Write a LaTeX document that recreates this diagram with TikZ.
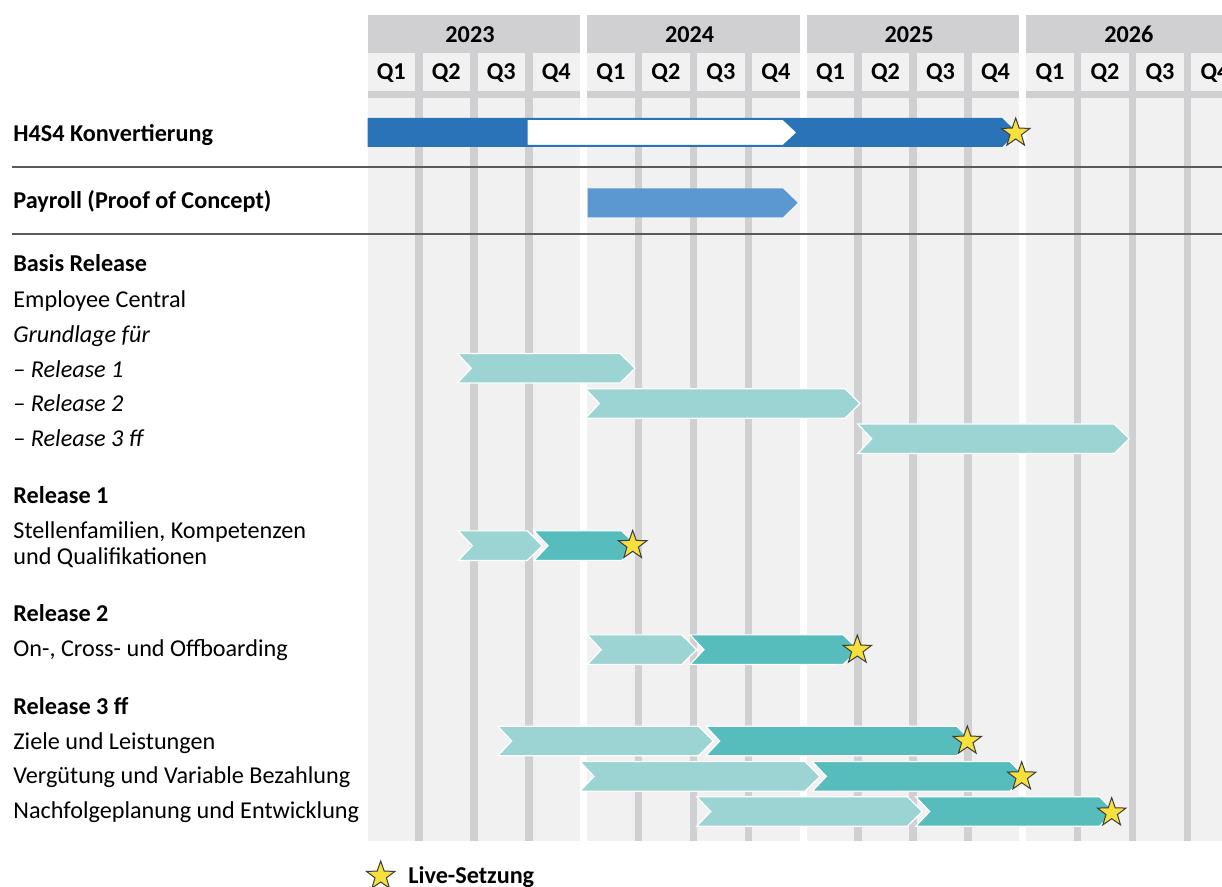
\documentclass[tikz,border=0pt]{standalone}
\usepackage{fontspec}
\setmainfont{Carlito}
\usetikzlibrary{shapes.geometric}

\definecolor{headgray}{HTML}{D0D0D2}
\definecolor{cellgray}{HTML}{F1F1F1}
\definecolor{hblue}{HTML}{2A73B8}
\definecolor{pblue}{HTML}{5B97D1}
\definecolor{lteal}{HTML}{9CD4D4}
\definecolor{dteal}{HTML}{56BDBC}
\definecolor{staryellow}{HTML}{F7E03C}
\definecolor{stargray}{HTML}{3C3C3C}
\definecolor{rulegray}{HTML}{5A5A5A}

\newcommand{\chartfont}{\fontsize{12.1}{13.8}\selectfont}

% bar with flat start: [style]{from}{to}{mid}
\newcommand{\flatbar}[4][]{%
  \path[#1] (#2,#4-14.5) -- (#3-15,#4-14.5) -- (#3,#4) -- (#3-15,#4+14.5) -- (#2,#4+14.5) -- cycle;}
% chevron: [style]{from}{to}{mid}
\newcommand{\chev}[4][]{%
  \path[#1] (#2,#4-14.8) -- (#3-15,#4-14.8) -- (#3,#4) -- (#3-15,#4+14.8) -- (#2,#4+14.8) -- (#2+14,#4) -- cycle;}

\tikzset{
  yeartext/.style={anchor=base, inner sep=0pt, font=\chartfont\bfseries},
  qtext/.style={anchor=base, inner sep=0pt, font=\chartfont\bfseries},
  rowtext/.style={anchor=base west, inner sep=0pt, font=\chartfont},
  rowbold/.style={rowtext, font=\chartfont\bfseries},
  rowital/.style={rowtext, font=\chartfont\itshape},
  phaseA/.style={fill=lteal, draw=white, line width=0.6pt},
  phaseB/.style={fill=dteal, draw=white, line width=0.6pt},
  livestar/.style={star, star points=5, star point ratio=2.5, minimum size=15pt,
    inner sep=0pt, fill=staryellow, draw=stargray, line width=0.5pt},
}

\begin{document}
\begin{tikzpicture}[x=0.5pt, y=-0.5pt]
  \useasboundingbox (0,0) rectangle (1222,887);
  \clip (0,0) rectangle (1222,887);

  %draw year columns with quarters
  \foreach \yr [count=\i from 0] in {2023,2024,2025,2026}{
    \pgfmathsetmacro{\xl}{367.5+219.6*\i}
    \fill[headgray] (\xl,15) rectangle ++(212.5,826);
    \node[yeartext] (y\yr) at (\xl+102.5,42.3) {\yr};
    \foreach \q in {0,1,2,3}{
      \pgfmathtruncatemacro{\qn}{\q+1}
      \fill[cellgray] (\xl+55*\q,52.7) rectangle ++(47.5,38);
      \fill[cellgray] (\xl+55*\q,98.3) rectangle ++(47.5,742.7);
      \node[qtext] (q\yr-\qn) at (\xl+55*\q+23.75,80) {Q\qn};
    }
  }

  %draw separator lines
  \draw[rulegray, line width=0.9pt] (12,167.3) -- (1222,167.3);
  \draw[rulegray, line width=0.9pt] (12,234) -- (1222,234);

  %draw bars
  \flatbar[fill=hblue]{367.5}{1017}{132.5}
  \path[fill=white, draw=hblue, line width=0.5pt] (527,119.5) -- (783,119.5) -- (797,132.5) -- (783,145.5) -- (527,145.5) -- cycle;
  \flatbar[fill=pblue]{587.7}{797.7}{202.8}

  \chev[phaseA]{457.3}{635}{368.3}
  \chev[phaseA]{585.3}{860}{403.5}
  \chev[phaseA]{857.7}{1129.3}{438.8}

  \chev[phaseA]{458.3}{542.3}{545.7}
  \chev[phaseB]{534}{636.7}{545.7}

  \chev[phaseA]{587.3}{696.7}{649.7}
  \chev[phaseB]{690}{858.3}{649.7}

  \chev[phaseA]{497.7}{713.3}{741}
  \chev[phaseB]{705.7}{971.7}{741}
  \chev[phaseA]{580}{820}{776.4}
  \chev[phaseB]{812.3}{1025}{776.4}
  \chev[phaseA]{696.7}{922.3}{811.5}
  \chev[phaseB]{915.7}{1114.3}{811.5}

  %draw live stars
  \node[livestar] (s-h4s4) at (1015.7,133) {};
  \node[livestar] (s-r1) at (632.7,545.3) {};
  \node[livestar] (s-r2) at (857.3,650) {};
  \node[livestar] (s-ziele) at (967.3,741) {};
  \node[livestar] (s-verg) at (1021.7,776.7) {};
  \node[livestar] (s-nachf) at (1111.7,812.7) {};

  %draw row labels
  \node[rowbold] (h4s4) at (13,141.7) {H4S4 Konvertierung};
  \node[rowbold] (payroll) at (13,209) {Payroll (Proof of Concept)};
  \node[rowbold] (basis) at (13,271.7) {Basis Release};
  \node[rowtext] (ec) at (13,307.3) {Employee Central};
  \node[rowital] (grund) at (13,342.3) {Grundlage für};
  \node[rowital] (gr1) at (13,377.3) {– Release 1};
  \node[rowital] (gr2) at (13,411.7) {– Release 2};
  \node[rowital] (gr3) at (13,446.7) {– Release 3 ff};
  \node[rowbold] (rel1) at (13,503.3) {Release 1};
  \node[rowtext] (stellen) at (13,538.3) {Stellenfamilien, Kompetenzen};
  \node[rowtext] (quali) at (13,565) {und Qualifikationen};
  \node[rowbold] (rel2) at (13,622) {Release 2};
  \node[rowtext] (boarding) at (13,657) {On-, Cross- und Offboarding};
  \node[rowbold] (rel3) at (13,714) {Release 3 ff};
  \node[rowtext] (ziele) at (13,749) {Ziele und Leistungen};
  \node[rowtext] (verg) at (13,783.5) {Vergütung und Variable Bezahlung};
  \node[rowtext] (nachf) at (13,818) {Nachfolgeplanung und Entwicklung};

  %draw legend
  \node[livestar] (s-legend) at (380.7,876) {};
  \node[rowbold] (legend) at (408,883.5) {Live-Setzung};
\end{tikzpicture}
\end{document}
